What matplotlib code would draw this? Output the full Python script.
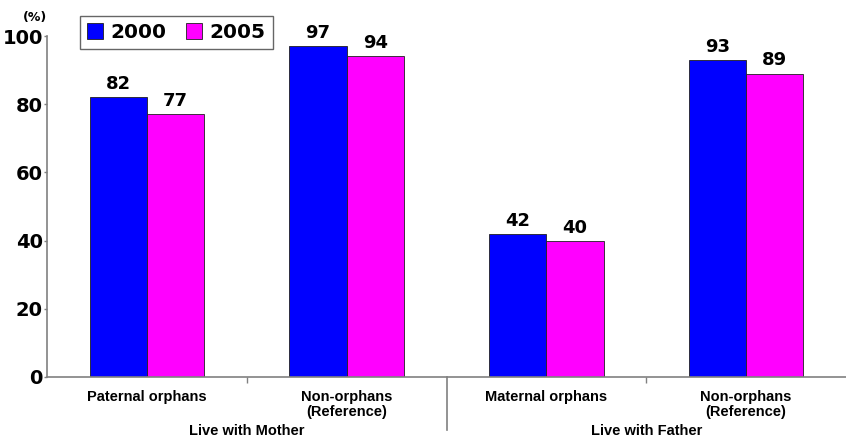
import matplotlib
matplotlib.use('Agg')

import matplotlib.pyplot as plt
import matplotlib.transforms as mtransforms
import numpy as np

# data
categories = ['Paternal orphans', 'Non-orphans\n(Reference)',
              'Maternal orphans', 'Non-orphans\n(Reference)']
groups = ['Live with Mother', 'Live with Father']
vals_2000 = [82, 97, 42, 93]
vals_2005 = [77, 94, 40, 89]
series = ['2000', '2005']
yticks = [0, 20, 40, 60, 80, 100]

fig = plt.figure(figsize=(8.46, 4.37), dpi=100)
ax = fig.add_axes([47 / 846, 60 / 437, 799 / 846, 341 / 437])

x = np.arange(len(categories))
w = 0.286
b1 = ax.bar(x - w / 2, vals_2000, w, color='#0000FF', edgecolor='#202020',
            linewidth=0.6, label=series[0])
b2 = ax.bar(x + w / 2, vals_2005, w, color='#FF00FF', edgecolor='#202020',
            linewidth=0.6, label=series[1])

for bars in (b1, b2):
    for r in bars:
        ax.text(r.get_x() + r.get_width() / 2, r.get_height() + 1.2,
                str(int(r.get_height())), ha='center', va='bottom',
                fontsize=13, fontweight='bold', family='DejaVu Sans')

ax.set_xlim(-0.5, 3.5)
ax.set_ylim(0, 100)

for s in ['top', 'right']:
    ax.spines[s].set_visible(False)
for s in ['left', 'bottom']:
    ax.spines[s].set_color('#808080')
    ax.spines[s].set_linewidth(1.2)

ax.set_yticks(yticks)
ax.set_yticklabels([str(t) for t in yticks], fontsize=14, fontweight='bold',
                   family='DejaVu Sans')
ax.tick_params(axis='y', length=2, width=1, color='#808080', pad=1)

ax.set_xticks(x)
ax.set_xticklabels(categories, fontsize=10.5, fontweight='bold',
                   family='Liberation Sans', linespacing=1.1)
ax.tick_params(axis='x', length=0, pad=9)
ax.set_xticks([0.5, 2.5], minor=True)
ax.tick_params(axis='x', which='minor', length=4, width=1, color='#808080')

# separator between the two groups
trans = mtransforms.blended_transform_factory(ax.transData, ax.transAxes)
ax.plot([1.5, 1.5], [0, -0.155], transform=trans, color='#808080',
        linewidth=1.2, clip_on=False)

# group labels
for i, g in enumerate(groups):
    ax.text(0.5 + 2 * i, -0.158, g, transform=trans, ha='center', va='center',
            fontsize=10.5, fontweight='bold', family='Liberation Sans')

# unit label
fig.text(23 / 846, 1 - 18 / 437, '(%)', fontsize=9, fontweight='bold',
         family='DejaVu Sans', va='center')

leg = fig.legend(loc='upper left', bbox_to_anchor=(80 / 846, 1 - 16 / 437),
                 ncol=2, frameon=True, fancybox=False,
                 prop={'weight': 'bold', 'family': 'DejaVu Sans', 'size': 14.5},
                 handlelength=0.8, handleheight=0.8, handletextpad=0.35,
                 columnspacing=1.0, borderpad=0.35, borderaxespad=0)
leg.get_frame().set_edgecolor('#404040')
leg.get_frame().set_linewidth(1.0)

plt.savefig('out.png', dpi=100)
